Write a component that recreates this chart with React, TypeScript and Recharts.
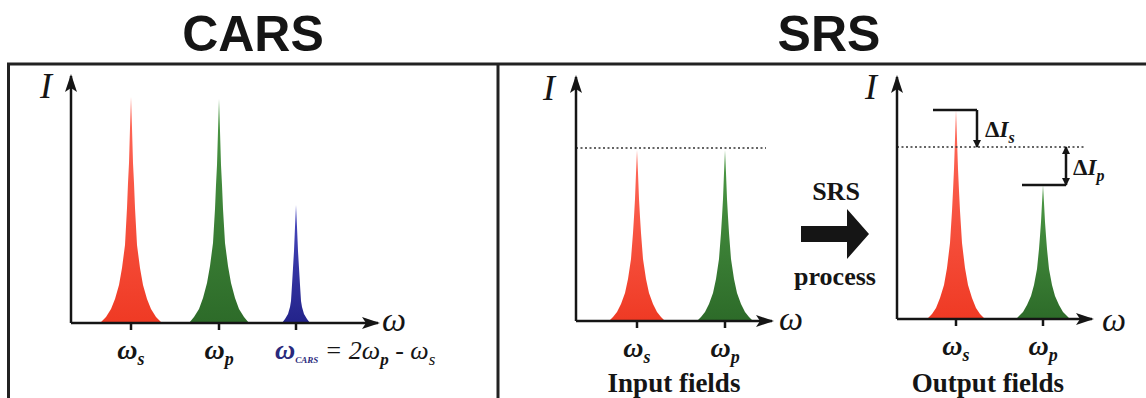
import React from "react";
import { ComposedChart, Area, XAxis, YAxis, ReferenceLine } from "recharts";

type Pt = [number, number];

// CARS panel: frequency offset from the I axis, intensity (both)
const carsStokes: Pt[] = [
  [29, 0], [35, 6], [40, 14], [44, 24], [48, 38], [51, 55], [54, 78], [56, 115],
  [57, 140], [58, 160], [59, 195], [60, 226], [61, 195], [62, 160], [63, 140],
  [64, 115], [66, 78], [69, 55], [72, 38], [76, 24], [80, 14], [85, 6], [91, 0],
];
const carsPump: Pt[] = [
  [118, 0], [123, 6], [128, 14], [132, 25], [136, 40], [139, 57], [142, 80], [144, 114],
  [145, 138], [146, 158], [147, 192], [148, 224], [149, 192], [150, 158], [151, 138],
  [152, 114], [154, 80], [157, 57], [160, 40], [164, 25], [168, 14], [173, 6], [178, 0],
];
const carsAnti: Pt[] = [
  [211, 0], [214, 4], [217, 9], [219, 16], [220, 22], [221, 38], [222, 55], [223, 72],
  [224, 96], [225, 118], [226, 96], [227, 72], [228, 55], [229, 38], [230, 22],
  [231, 16], [233, 9], [236, 4], [239, 0],
];
const carsTicks = [60, 148, 225];

// SRS input fields
const inStokes: Pt[] = [
  [33, 0], [37, 4], [41, 9], [45, 17], [49, 28], [52, 42], [55, 62], [57, 88],
  [58, 104], [59, 122], [60, 148], [61, 171], [62, 148], [63, 122], [64, 104],
  [65, 88], [67, 62], [70, 42], [73, 28], [77, 17], [81, 9], [85, 4], [89, 0],
];
const inPump: Pt[] = [
  [121, 0], [125, 4], [129, 9], [133, 17], [137, 28], [140, 42], [143, 62], [145, 88],
  [146, 104], [147, 122], [148, 148], [149, 171], [150, 148], [151, 122], [152, 104],
  [153, 88], [155, 62], [158, 42], [161, 28], [165, 17], [169, 9], [173, 4], [177, 0],
];
const inTicks = [61, 149];
const inLevel = 173;

// SRS output fields
const outStokes: Pt[] = [
  [30, 0], [35, 5], [39, 11], [43, 21], [47, 34], [50, 51], [53, 76], [55, 108],
  [56, 128], [57, 150], [58, 180], [59, 209], [60, 180], [61, 150], [62, 128],
  [63, 108], [65, 76], [68, 51], [71, 34], [75, 21], [79, 11], [83, 5], [88, 0],
];
const outPump: Pt[] = [
  [119, 0], [122, 3], [126, 7], [130, 14], [134, 23], [137, 34], [140, 50], [142, 70],
  [143, 83], [144, 97], [145, 116], [146, 134], [147, 116], [148, 97], [149, 83],
  [150, 70], [152, 50], [155, 34], [158, 23], [162, 14], [166, 7], [170, 3], [173, 0],
];
const outTicks = [59, 146];
const outLevel = 172;

const INK = "#151515";
const SERIF = "'Liberation Serif', 'DejaVu Serif', serif";
const AXIS_H = 40;
const AXIS_W = 10;

function buildTable(series: Record<string, Pt[]>) {
  const rows: Record<string, number>[] = [];
  for (const key of Object.keys(series)) {
    for (const [w, v] of series[key]) rows.push({ w, [key]: v });
  }
  return rows.sort((a, b) => a.w - b.w);
}

const peakMax = (pts: Pt[]) => Math.max(...pts.map((p) => p[1]));

function Defs({ id }: { id: string }) {
  return (
    <defs>
      <marker id={`${id}-arr`} viewBox="0 0 18 12" refX="16" refY="6" markerWidth="18" markerHeight="12"
        markerUnits="userSpaceOnUse" orient="auto-start-reverse">
        <path d="M0,0 L18,6 L0,12 L4,6 z" fill={INK} />
      </marker>
      <marker id={`${id}-tip`} viewBox="0 0 8 8" refX="7" refY="4" markerWidth="8" markerHeight="8"
        markerUnits="userSpaceOnUse" orient="auto-start-reverse">
        <path d="M0,0 L8,4 L0,8 z" fill={INK} />
      </marker>
      <linearGradient id={`${id}-red`} x1="0" y1="0" x2="0" y2="1">
        <stop offset="0%" stopColor="#ff6b5c" />
        <stop offset="100%" stopColor="#ef3a24" />
      </linearGradient>
      <linearGradient id={`${id}-green`} x1="0" y1="0" x2="0" y2="1">
        <stop offset="0%" stopColor="#4d9a46" />
        <stop offset="100%" stopColor="#2d6b29" />
      </linearGradient>
      <linearGradient id={`${id}-blue`} x1="0" y1="0" x2="0" y2="1">
        <stop offset="0%" stopColor="#4a4ac0" />
        <stop offset="100%" stopColor="#23238a" />
      </linearGradient>
    </defs>
  );
}

function subTick(subs: string[]) {
  return (props: any) => {
    const { x, y, index } = props;
    return (
      <text x={x} y={y + 29} textAnchor="middle" fontFamily={SERIF} fontStyle="italic"
        fontWeight="bold" fontSize={28} fill={INK}>
        <tspan>ω</tspan>
        <tspan fontSize={18} dy={6}>{subs[index]}</tspan>
      </text>
    );
  };
}

function CarsTick(props: any) {
  const { x, y, index } = props;
  if (index < 2) return subTick(["s", "p"])(props);
  return (
    <text x={x - 21} y={y + 29} textAnchor="start" fontFamily={SERIF} fontStyle="italic"
      fontWeight="bold" fontSize={26} fill={INK}>
      <tspan fill="#2a2a7c" fontSize={28}>ω</tspan>
      <tspan fill="#2a2a7c" fontSize={9} dy={4}>CARS</tspan>
      <tspan dy={-4} fontWeight="normal"> = 2ω</tspan>
      <tspan fontSize={17} dy={6}>p</tspan>
      <tspan dy={-6} fontWeight="normal"> - ω</tspan>
      <tspan fontSize={17} dy={6} fontWeight="normal">s</tspan>
    </text>
  );
}

const seg = (id: string, start: boolean, end: boolean) => (p: any) => (
  <line x1={p.x1} y1={p.y1} x2={p.x2} y2={p.y2} stroke={INK} strokeWidth={2.5}
    markerStart={start ? `url(#${id}-tip)` : undefined} markerEnd={end ? `url(#${id}-tip)` : undefined} />
);

type PanelProps = {
  id: string;
  left: number;
  width: number;
  // pixel positions of the axis origin and the arrow tips inside this panel
  originX: number;
  originY: number;
  tipX: number;
  tipY: number;
  xMax: number;
  yMax: number;
  series: Record<string, Pt[]>;
  colors: Record<string, string>;
  ticks: number[];
  tick: any;
  children?: React.ReactNode;
};

function Panel({ id, left, width, originX, originY, tipX, tipY, xMax, yMax, series, colors, ticks, tick, children }: PanelProps) {
  const data = buildTable(series);
  const margin = {
    top: tipY,
    left: originX - AXIS_W,
    right: width - tipX,
    bottom: 398 - originY - AXIS_H,
  };
  return (
    <div style={{ position: "absolute", left, top: 0 }}>
      <ComposedChart width={width} height={398} data={data} margin={margin}>
        <Defs id={id} />
        <XAxis type="number" dataKey="w" domain={[0, xMax]} ticks={ticks} height={AXIS_H}
          tickSize={7} tickMargin={0} interval={0} allowDataOverflow
          axisLine={{ stroke: INK, strokeWidth: 2.5, markerEnd: `url(#${id}-arr)` }}
          tickLine={{ stroke: INK, strokeWidth: 2.5 }} tick={tick} />
        <YAxis type="number" domain={[0, yMax]} width={AXIS_W} tick={false} tickLine={false} allowDataOverflow
          axisLine={{ stroke: INK, strokeWidth: 2.5, markerStart: `url(#${id}-arr)` }} />
        {Object.keys(series).map((k) => (
          <Area key={k} type="linear" dataKey={k} stroke="none" fill={`url(#${id}-${colors[k]})`}
            fillOpacity={1} dot={false} activeDot={false} connectNulls={false} isAnimationActive={false} />
        ))}
        {children}
      </ComposedChart>
    </div>
  );
}

export default function App() {
  const sTop = peakMax(outStokes);
  const pTop = peakMax(outPump);
  return (
    <div style={{ position: "absolute", left: 0, top: 0, width: 1146, height: 398, background: "#fff", overflow: "hidden" }}>
      <Panel id="cars" left={0} width={497} originX={71} originY={323} tipX={378} tipY={76}
        xMax={307} yMax={247} series={{ s: carsStokes, p: carsPump, a: carsAnti }}
        colors={{ s: "red", p: "green", a: "blue" }} ticks={carsTicks} tick={CarsTick} />

      <Panel id="srsin" left={497} width={320} originX={79} originY={321} tipX={275} tipY={77}
        xMax={196} yMax={244} series={{ s: inStokes, p: inPump }}
        colors={{ s: "red", p: "green" }} ticks={inTicks} tick={subTick(["s", "p"])}>
        <ReferenceLine segment={[{ x: 0, y: inLevel }, { x: 190, y: inLevel }]}
          stroke="#333" strokeWidth={1.5} strokeDasharray="2 2.5" />
      </Panel>

      <Panel id="srsout" left={817} width={329} originX={80} originY={319} tipX={275} tipY={77}
        xMax={195} yMax={242} series={{ s: outStokes, p: outPump }}
        colors={{ s: "red", p: "green" }} ticks={outTicks} tick={subTick(["s", "p"])}>
        <ReferenceLine segment={[{ x: 0, y: outLevel }, { x: 188, y: outLevel }]}
          stroke="#333" strokeWidth={1.5} strokeDasharray="2 2.5" />
        <ReferenceLine segment={[{ x: 36, y: sTop }, { x: 80, y: sTop }]} shape={seg("srsout", false, false)} />
        <ReferenceLine segment={[{ x: 80, y: sTop }, { x: 80, y: outLevel }]} shape={seg("srsout", false, true)} />
        <ReferenceLine segment={[{ x: 125, y: pTop }, { x: 169, y: pTop }]} shape={seg("srsout", false, false)} />
        <ReferenceLine segment={[{ x: 169, y: outLevel }, { x: 169, y: pTop }]} shape={seg("srsout", true, true)} />
      </Panel>

      <svg width={1146} height={398} style={{ position: "absolute", left: 0, top: 0, pointerEvents: "none" }}>
        {/* frame */}
        <path d="M8.5,398 L8.5,64 L1146,64 M498,64 L498,398" stroke="#222" strokeWidth={3} fill="none" />
        {/* titles */}
        <text x={253} y={51} textAnchor="middle" fontFamily="'Liberation Sans', Arial, sans-serif"
          fontWeight="bold" fontSize={50} fill={INK}>CARS</text>
        <text x={829} y={51} textAnchor="middle" fontFamily="'Liberation Sans', Arial, sans-serif"
          fontWeight="bold" fontSize={50} fill={INK}>SRS</text>
        {/* axis names */}
        <g fontFamily={SERIF} fontStyle="italic" fill={INK}>
          <text x={40} y={98} fontSize={36}>I</text>
          <text x={543} y={100} fontSize={36}>I</text>
          <text x={865} y={99} fontSize={36}>I</text>
          <text x={382} y={331} fontSize={34}>ω</text>
          <text x={779} y={330} fontSize={34}>ω</text>
          <text x={1102} y={331} fontSize={34}>ω</text>
        </g>
        {/* process arrow */}
        <text x={836} y={200} textAnchor="middle" fontFamily={SERIF} fontWeight="bold" fontSize={26} fill={INK}>SRS</text>
        <polygon points="801,226 847,226 847,209 869,234 847,259 847,242 801,242" fill={INK} />
        <text x={835} y={285} textAnchor="middle" fontFamily={SERIF} fontWeight="bold" fontSize={26} fill={INK}>process</text>
        {/* delta labels */}
        <g fontFamily={SERIF} fontStyle="italic" fontWeight="bold" fill={INK}>
          <text x={985} y={137} fontSize={23}>
            <tspan fontStyle="normal">Δ</tspan>I<tspan fontSize={16} dy={6}>s</tspan>
          </text>
          <text x={1073} y={175} fontSize={23}>
            <tspan fontStyle="normal">Δ</tspan>I<tspan fontSize={16} dy={6}>p</tspan>
          </text>
        </g>
        {/* captions */}
        <text x={674} y={392} textAnchor="middle" fontFamily={SERIF} fontWeight="bold" fontSize={27} fill={INK}>Input fields</text>
        <text x={988} y={392} textAnchor="middle" fontFamily={SERIF} fontWeight="bold" fontSize={27} fill={INK}>Output fields</text>
      </svg>
    </div>
  );
}
